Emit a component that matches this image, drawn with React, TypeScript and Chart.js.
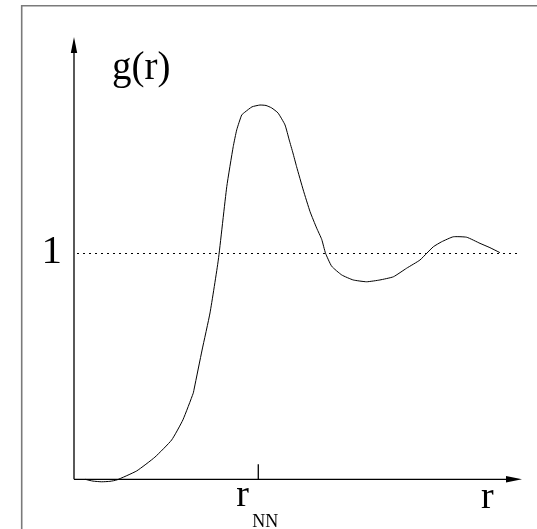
import React, { useEffect, useRef } from "react";
import { Chart, registerables } from "chart.js";

Chart.register(...registerables);

// r in units of r_NN, g(r) dimensionless
const rValues = [
  0.06, 0.103, 0.15, 0.195, 0.232, 0.34, 0.439, 0.53, 0.591, 0.647,
  0.653, 0.695, 0.738, 0.783, 0.829, 0.864, 0.883, 0.91, 0.928, 0.966,
  1.009, 1.042, 1.073, 1.107, 1.145, 1.168, 1.188, 1.208, 1.244, 1.281,
  1.317, 1.344, 1.365, 1.398, 1.453, 1.515, 1.588, 1.66, 1.733, 1.805,
  1.877, 1.914, 1.95, 1.995, 2.058, 2.131, 2.203, 2.257, 2.311,
];
const gValues = [
  0, -0.008, -0.011, -0.009, -0.003, 0.037, 0.098, 0.174, 0.263, 0.381,
  0.404, 0.572, 0.736, 0.97, 1.295, 1.472, 1.546, 1.612, 1.625, 1.648,
  1.656, 1.654, 1.643, 1.621, 1.568, 1.501, 1.444, 1.383, 1.28, 1.184,
  1.111, 1.062, 1.0, 0.943, 0.904, 0.882, 0.874, 0.882, 0.896, 0.934,
  0.97, 1.0, 1.029, 1.051, 1.073, 1.071, 1.044, 1.025, 1.003,
];

const yAxisTitle = "g(r)";
const xAxisTitle = "r";
const yTickValue = 1;
const yTickLabel = "1";
const xTickValue = 1;
const xTickLabel = "r";
const xTickSub = "NN";

const X_MAX = 2.431;
const Y_MAX = 1.957;
const SERIF = "'Liberation Serif', 'DejaVu Serif', serif";

const decorPlugin = {
  id: "decor",
  beforeDatasetsDraw(chart: any) {
    const ctx = chart.ctx as CanvasRenderingContext2D;
    const xs = chart.scales.x;
    const ys = chart.scales.y;
    const x0 = xs.getPixelForValue(0);
    const y0 = ys.getPixelForValue(0);
    const y1 = ys.getPixelForValue(yTickValue);
    const xEnd = xs.right;
    const yTop = ys.top;
    const xt = xs.getPixelForValue(xTickValue);

    ctx.save();
    // outer frame (top + left)
    ctx.strokeStyle = "#7a7a7a";
    ctx.lineWidth = 1.6;
    ctx.beginPath();
    ctx.moveTo(x0 - 52.3, chart.height + 2);
    ctx.lineTo(x0 - 52.3, yTop - 31.3);
    ctx.lineTo(chart.width + 2, yTop - 31.3);
    ctx.stroke();

    // dotted reference line at g = 1
    ctx.strokeStyle = "#000";
    ctx.lineWidth = 1;
    ctx.setLineDash([2, 4]);
    ctx.beginPath();
    ctx.moveTo(x0 + 3, Math.round(y1) + 0.5);
    ctx.lineTo(xEnd - 2, Math.round(y1) + 0.5);
    ctx.stroke();
    ctx.setLineDash([]);

    // axes
    ctx.lineWidth = 1.3;
    ctx.beginPath();
    ctx.moveTo(x0, y0);
    ctx.lineTo(x0, yTop + 12);
    ctx.moveTo(x0, y0);
    ctx.lineTo(xEnd - 12, y0);
    // tick at r_NN
    ctx.moveTo(xt, y0);
    ctx.lineTo(xt, y0 - 15);
    ctx.stroke();

    // arrowheads
    ctx.fillStyle = "#000";
    ctx.beginPath();
    ctx.moveTo(x0, yTop);
    ctx.lineTo(x0 - 3.2, yTop + 16);
    ctx.lineTo(x0 + 3.2, yTop + 16);
    ctx.closePath();
    ctx.fill();
    ctx.beginPath();
    ctx.moveTo(xEnd, y0);
    ctx.lineTo(xEnd - 16, y0 - 3.2);
    ctx.lineTo(xEnd - 16, y0 + 3.2);
    ctx.closePath();
    ctx.fill();

    // texts
    ctx.textBaseline = "alphabetic";
    ctx.textAlign = "left";
    ctx.font = `39px ${SERIF}`;
    ctx.fillText(yAxisTitle, x0 + 38, yTop + 42);

    ctx.textAlign = "right";
    ctx.font = `41px ${SERIF}`;
    ctx.fillText(yTickLabel, x0 - 12, y1 + 10);

    ctx.textAlign = "left";
    ctx.font = `38px ${SERIF}`;
    ctx.fillText(xTickLabel, xt - 22, y0 + 27);
    ctx.font = `18px ${SERIF}`;
    ctx.fillText(xTickSub, xt - 6, y0 + 47.5);

    ctx.font = `38px ${SERIF}`;
    ctx.fillText(xAxisTitle, xEnd - 41, y0 + 29);
    ctx.restore();
  },
};

export default function App() {
  const canvasRef = useRef<HTMLCanvasElement | null>(null);

  useEffect(() => {
    if (!canvasRef.current) return;
    const points = rValues.map((r, i) => ({ x: r, y: gValues[i] }));
    const chart = new Chart(canvasRef.current, {
      type: "line",
      data: {
        datasets: [
          {
            data: points,
            borderColor: "#000",
            borderWidth: 1,
            pointRadius: 0,
            tension: 0.15,
            fill: false,
            clip: false as any,
          },
        ],
      },
      options: {
        animation: false,
        responsive: false,
        devicePixelRatio: 1,
        layout: { padding: { left: 74, top: 37, right: 15, bottom: 49.7 } },
        plugins: {
          legend: { display: false },
          tooltip: { enabled: false },
          title: { display: false },
        },
        scales: {
          x: { type: "linear", min: 0, max: X_MAX, display: false },
          y: { type: "linear", min: 0, max: Y_MAX, display: false },
        },
      },
      plugins: [decorPlugin],
    });
    return () => chart.destroy();
  }, []);

  return (
    <div style={{ position: "absolute", left: 0, top: 0, width: 537, height: 529, background: "#fff" }}>
      <canvas ref={canvasRef} width={537} height={529} style={{ display: "block", width: 537, height: 529 }} />
    </div>
  );
}
